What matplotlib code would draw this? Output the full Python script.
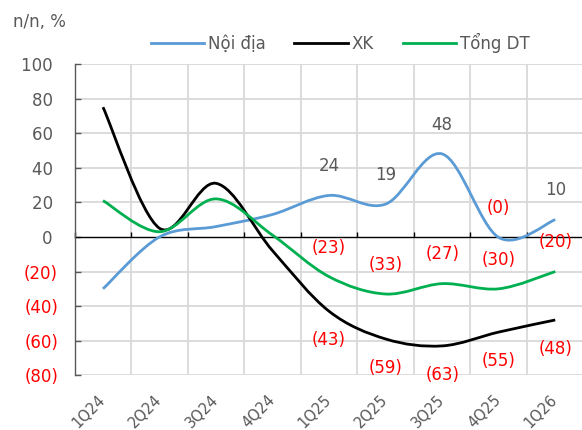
import numpy as np
import matplotlib
matplotlib.use("Agg")
import matplotlib.pyplot as plt
from matplotlib.path import Path
from matplotlib.patches import PathPatch
import matplotlib.transforms as mtransforms
from matplotlib.lines import Line2D

# data (n/n, %)
quarters = ["1Q24", "2Q24", "3Q24", "4Q24", "1Q25", "2Q25", "3Q25", "4Q25", "1Q26"]
noi_dia = [-30, 0, 6, 13, 24, 19, 48, -0.3, 10]
xk = [75, 5, 31, -8, -43, -59, -63, -55, -48]
tong_dt = [21, 3, 22, 1, -23, -33, -27, -30, -20]
first_label = 4  # labels shown from 1Q25

yticks = list(range(-80, 101, 20))

GRAY = "#595959"
RED = "#FF0000"
plt.rcParams['font.family'] = ['DejaVu Sans']


def fmt(v):
    return "({:.0f})".format(abs(v)) if round(v, 6) < 0 else "{:.0f}".format(v)


def smooth_path(xs, ys):
    # excel-like smoothed line (catmull-rom as cubic bezier)
    pts = np.column_stack([xs, ys]).astype(float)
    n = len(pts)
    verts = [pts[0]]
    codes = [Path.MOVETO]
    for i in range(n - 1):
        p0 = pts[max(i - 1, 0)]
        p1 = pts[i]
        p2 = pts[i + 1]
        p3 = pts[min(i + 2, n - 1)]
        c1 = p1 + (p2 - p0) / 6.0
        c2 = p2 - (p3 - p1) / 6.0
        verts += [c1, c2, p2]
        codes += [Path.CURVE4] * 3
    return Path(verts, codes)


fig = plt.figure(figsize=(5.82, 4.30), dpi=100)
ax = fig.add_axes([0.1284, 0.1272, 0.8742, 0.724])

x = np.arange(len(quarters))
series = [("Nội địa", noi_dia, "#5B9BD5", 1), ("XK", xk, "black", -1), ("Tổng DT", tong_dt, "#00B050", 1)]

ax.set_xlim(-0.5, len(quarters) - 0.5)
ax.set_ylim(-80, 100)

# grid lines
bounds = np.arange(len(quarters) + 1) - 0.5
for t in yticks:
    if t != 0:
        ax.axhline(t, color="#D9D9D9", lw=1.3, zorder=0.5)
for b in bounds[1:]:
    ax.axvline(b, color="#D9D9D9", lw=1.3, zorder=0.5)

for name, vals, col, side in series:
    patch = PathPatch(smooth_path(x, vals), facecolor="none", edgecolor=col, lw=2.0, zorder=3)
    ax.add_patch(patch)
    for i in range(first_label, len(vals)):
        v = vals[i]
        ax.annotate(fmt(v), (x[i], v), xytext=(0, 21 * side), textcoords="offset points",
                    ha="center", va="center", fontsize=12,
                    color=RED if round(v, 6) < 0 else GRAY, zorder=4)

ax.set_yticks(yticks)
ax.set_yticklabels([fmt(t) + ("" if t < 0 else " ") for t in yticks])
for lbl, t in zip(ax.get_yticklabels(), yticks):
    lbl.set_color(RED if t < 0 else GRAY)
ax.tick_params(axis="y", direction="in", length=4, width=1, color=GRAY, pad=12, labelsize=12)
ax.set_xticks(bounds)
ax.set_xticklabels([])

for s in ["top", "right"]:
    ax.spines[s].set_visible(False)
ax.spines["left"].set_color(GRAY)
ax.spines["left"].set_linewidth(1)
ax.spines["bottom"].set_position(("data", 0))
ax.spines["bottom"].set_color("black")
ax.spines["bottom"].set_linewidth(1)
ax.spines["bottom"].set_zorder(2)
ax.tick_params(axis="x", direction="in", length=3.5, width=1, color="black")

# category labels at the bottom
trans = mtransforms.blended_transform_factory(ax.transData, ax.transAxes)
for i, q in enumerate(quarters):
    ax.text(i - 0.1, -0.055, q, transform=trans, rotation=45, ha="right", va="top",
            rotation_mode="anchor", fontsize=10.5, color=GRAY)

handles = [Line2D([], [], color=c, lw=2.0) for _, _, c, _ in series]
ax.legend(handles, [s[0] for s in series], loc="center", bbox_to_anchor=(0.522, 1.068),
          ncol=3, frameon=False, fontsize=12, handlelength=3.2, handletextpad=0.25,
          columnspacing=1.7, labelcolor=GRAY, borderpad=0, borderaxespad=0)

fig.text(13 / 582, 1 - 22 / 430, "n/n, %", fontsize=12, color=GRAY, va="center", ha="left")

fig.savefig("out.png", dpi=100)
